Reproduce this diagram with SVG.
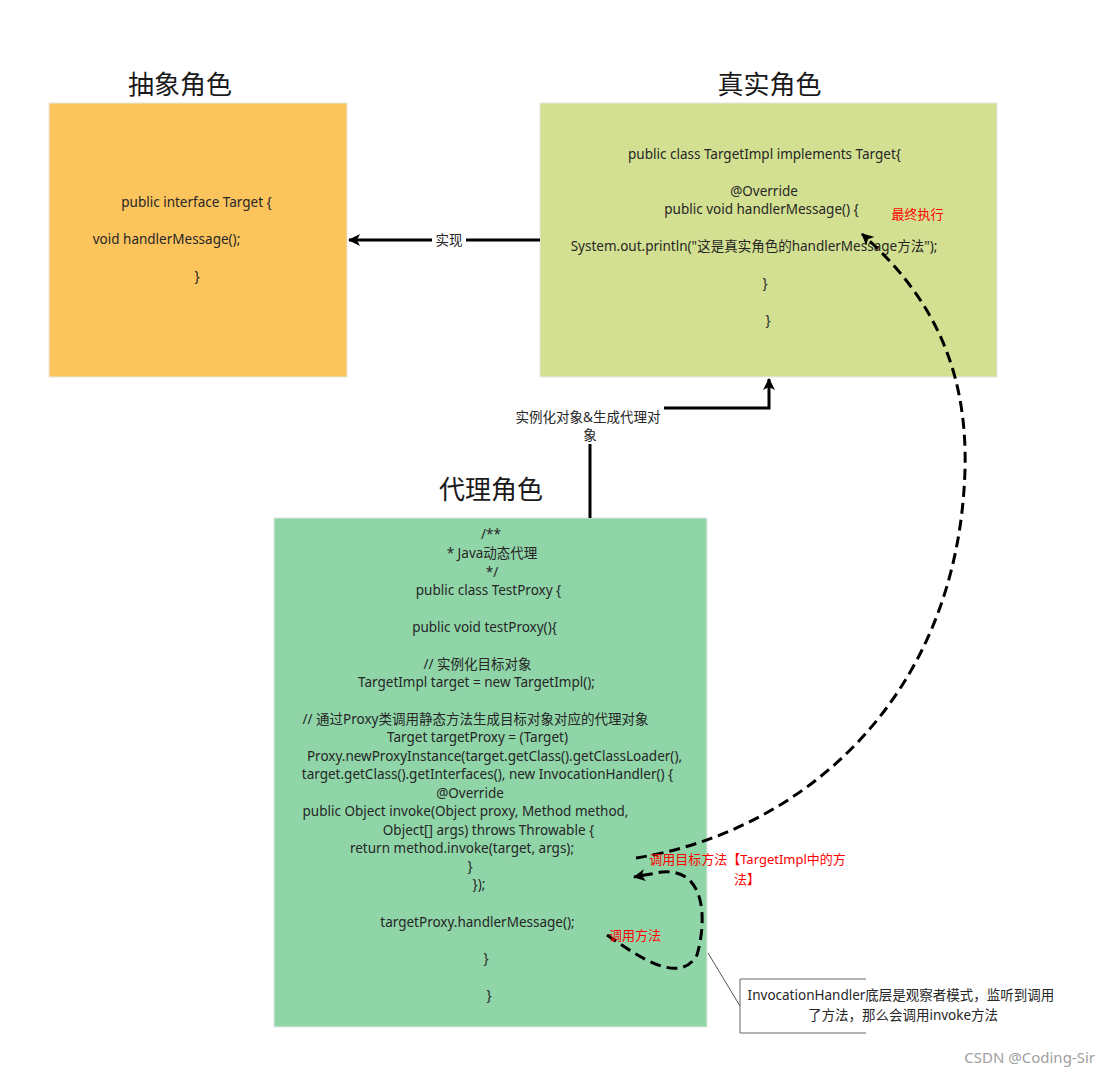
<svg xmlns="http://www.w3.org/2000/svg" width="1111" height="1077" viewBox="0 0 1111 1077">
<defs>
<style>
.t{font-family:"Noto Sans","Noto Sans CJK SC",sans-serif;font-size:13.5px;fill:#262626;text-anchor:middle}
.title{font-family:"Noto Sans CJK SC","Noto Sans",sans-serif;font-size:26px;fill:#1a1a1a;text-anchor:middle}
.red{font-family:"Noto Sans","Noto Sans CJK SC",sans-serif;font-size:13px;fill:#ff0000;text-anchor:middle}
.solid{fill:none;stroke:#000;stroke-width:3}
.dash{fill:none;stroke:#000;stroke-width:3;stroke-dasharray:11,6}
.box{stroke:#e6e6e6;stroke-width:1}
</style>
<marker id="arr" viewBox="0 0 12 12" refX="11" refY="6" markerWidth="12" markerHeight="12" markerUnits="userSpaceOnUse" orient="auto">
<path d="M0,0 L12,6 L0,12 L3,6 z" fill="#000"/>
</marker>
</defs>
<rect width="1111" height="1077" fill="#fff"/>

<g id="abstract-role">
<text class="title" x="180" y="94">抽象角色</text>
<rect class="box" x="49" y="103" width="298" height="274" fill="#FCC45D"/>
<text class="t" x="196.5" y="207">public interface Target {</text>
<text class="t" x="166.5" y="244">void handlerMessage();</text>
<text class="t" x="197" y="281">}</text>
</g>

<g id="real-role">
<text class="title" x="769.5" y="94">真实角色</text>
<rect class="box" x="540" y="103" width="457" height="274" fill="#D3E091"/>
<text class="t" x="764.5" y="159">public class TargetImpl implements Target{</text>
<text class="t" x="764" y="195.5">@Override</text>
<text class="t" x="761.5" y="214">public void handlerMessage() {</text>
<text class="t" x="754" y="251">System.out.println("这是真实角色的handlerMessage方法");</text>
<text class="t" x="765" y="288">}</text>
<text class="t" x="768" y="325">}</text>
</g>

<g id="proxy-role">
<text class="title" x="491" y="499">代理角色</text>
<rect class="box" x="274" y="518" width="433" height="509" fill="#8FD5A8"/>
<text class="t" x="491" y="539">/**</text>
<text class="t" x="492" y="558">* Java动态代理</text>
<text class="t" x="492" y="577">*/</text>
<text class="t" x="488.5" y="595">public class TestProxy {</text>
<text class="t" x="484.5" y="632">public void testProxy(){</text>
<text class="t" x="477.5" y="669">// 实例化目标对象</text>
<text class="t" x="476.5" y="687">TargetImpl target = new TargetImpl();</text>
<text class="t" x="475.5" y="724">// 通过Proxy类调用静态方法生成目标对象对应的代理对象</text>
<text class="t" x="477.5" y="742">Target targetProxy = (Target)</text>
<text class="t" x="494.5" y="761">Proxy.newProxyInstance(target.getClass().getClassLoader(),</text>
<text class="t" x="487.5" y="779">target.getClass().getInterfaces(), new InvocationHandler() {</text>
<text class="t" x="470" y="798">@Override</text>
<text class="t" x="465.5" y="816">public Object invoke(Object proxy, Method method,</text>
<text class="t" x="488.5" y="835">Object[] args) throws Throwable {</text>
<text class="t" x="462" y="853">return method.invoke(target, args);</text>
<text class="t" x="470" y="871">}</text>
<text class="t" x="479" y="889">});</text>
<text class="t" x="477.5" y="927">targetProxy.handlerMessage();</text>
<text class="t" x="486" y="963">}</text>
<text class="t" x="489" y="1000">}</text>
</g>

<g id="connectors">
<path class="solid" d="M540,240 L349,240" marker-end="url(#arr)"/>
<rect x="432" y="231" width="34" height="18" fill="#fff"/>
<text class="t" x="449" y="245">实现</text>

<path class="solid" d="M590,518 L590,408 L769,408 L769,379" marker-end="url(#arr)"/>
<rect x="514" y="399" width="150" height="45" fill="#fff"/>
<text class="t" x="588" y="422">实例化对象&amp;生成代理对</text>
<text class="t" x="590" y="440">象</text>

<path class="dash" d="M636,858 C800,832 958,700 965,470 C968,360 925,290 862,234" marker-end="url(#arr)"/>
<text class="red" x="917.5" y="219">最终执行</text>
<text class="red" x="747.5" y="864">调用目标方法【TargetImpl中的方</text>
<text class="red" x="747" y="884">法】</text>

<path class="dash" d="M607,935 C640,958 680,985 697,955 C707,920 706,868 662,872 L634,877" marker-end="url(#arr)"/>
<text class="red" x="635" y="940">调用方法</text>
</g>

<g id="note">
<path d="M708,953 L740,1006" fill="none" stroke="#555" stroke-width="1"/>
<path d="M866,979 L740,979 L740,1033 L866,1033" fill="none" stroke="#666" stroke-width="1"/>
<text class="t" x="901" y="1000">InvocationHandler底层是观察者模式，监听到调用</text>
<text class="t" x="903" y="1020">了方法，那么会调用invoke方法</text>
</g>

<text x="1095" y="1063" font-family="Noto Sans, sans-serif" font-size="15" fill="#a0a0a0" text-anchor="end">CSDN @Coding-Sir</text>
</svg>
